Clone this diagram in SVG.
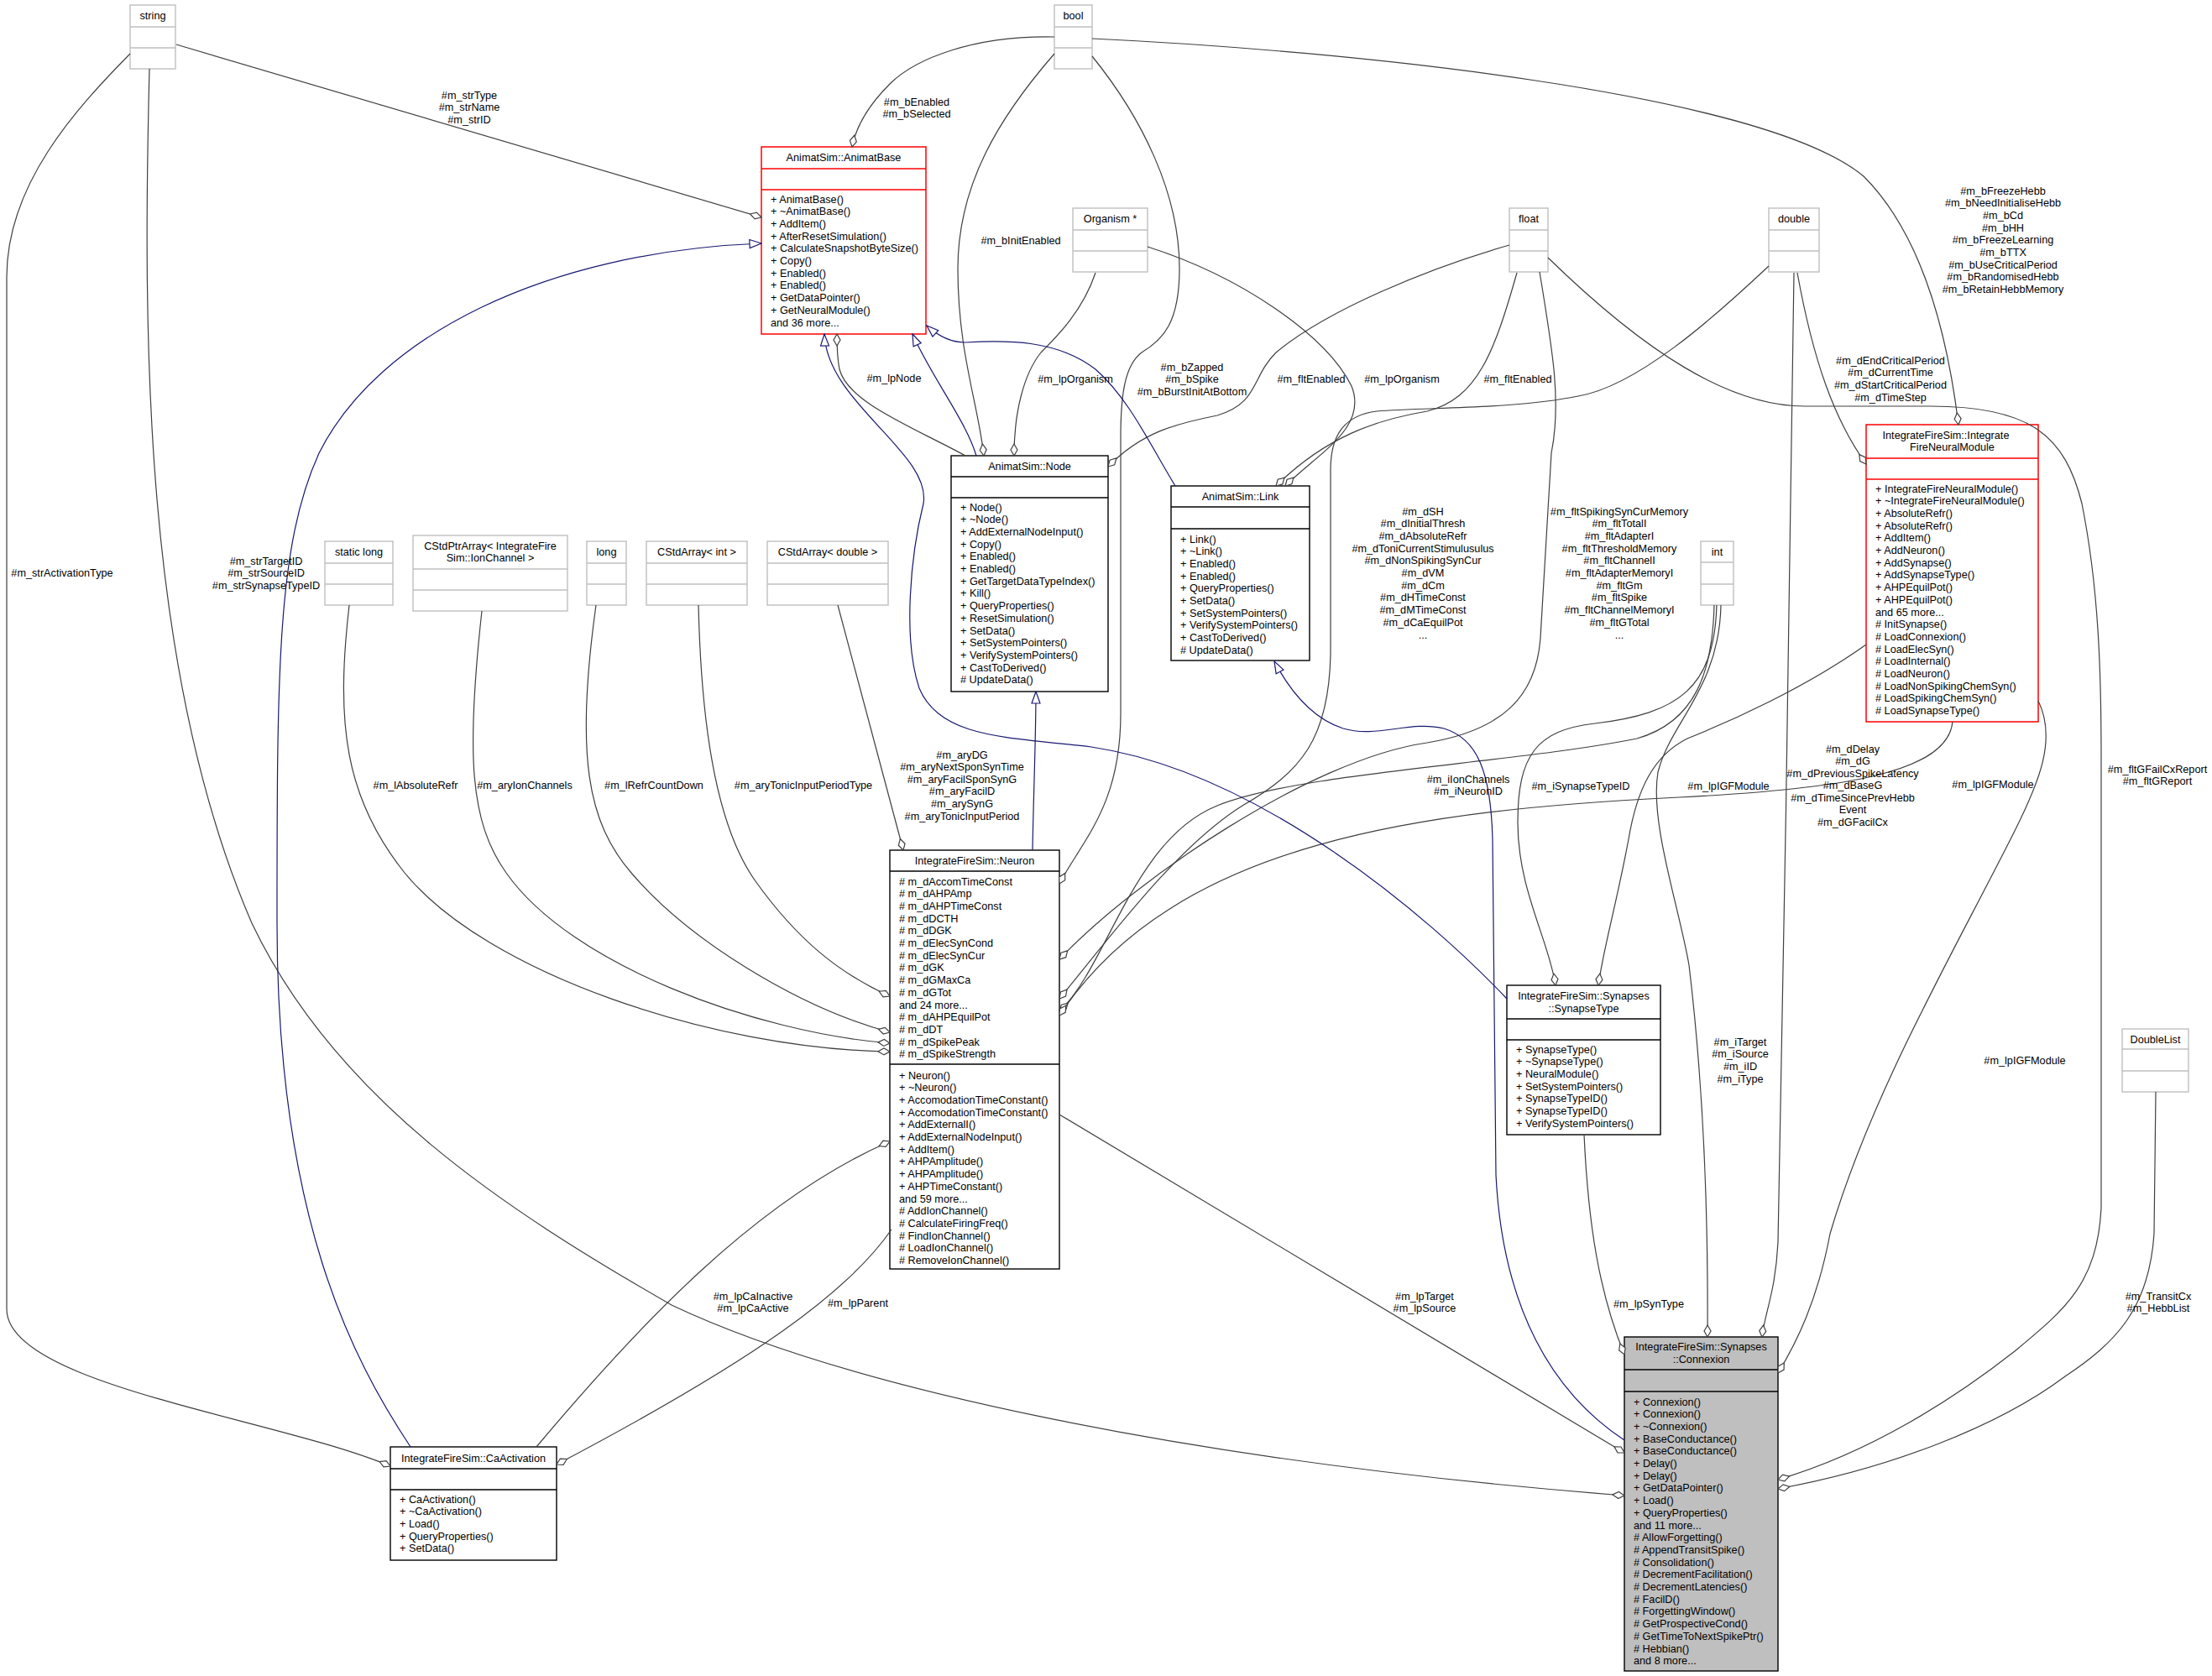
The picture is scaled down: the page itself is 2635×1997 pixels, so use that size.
<svg xmlns="http://www.w3.org/2000/svg" width="2635" height="1997" viewBox="0 0 2635 1997">
<style>
text{font-family:"Liberation Sans",Arial,sans-serif;font-size:12.7px;fill:#000}
.c{text-anchor:middle}
.box{fill:#fff;stroke:#000;stroke-width:1.4}
.red{fill:#fff;stroke:#ff0000;stroke-width:1.5}
.cur{fill:#bfbfbf;stroke:#000;stroke-width:1.4}
.typ{fill:#fff;stroke:#bfbfbf;stroke-width:1.4}
.dv{stroke:#000;stroke-width:1.4}
.dvr{stroke:#ff0000;stroke-width:1.5}
.dvt{stroke:#bfbfbf;stroke-width:1.4}
.e{fill:none;stroke:#404040;stroke-width:1.2;marker-end:url(#dia)}
.b{fill:none;stroke:#191970;stroke-width:1.2;marker-end:url(#arr)}
</style>
<defs>
<marker id="dia" markerUnits="userSpaceOnUse" markerWidth="16" markerHeight="10" viewBox="-1 -1 16 10" refX="14" refY="4" orient="auto"><path d="M0,4 L7,0 L14,4 L7,8 Z" fill="#fff" stroke="#404040" stroke-width="1.2"/></marker>
<marker id="arr" markerUnits="userSpaceOnUse" markerWidth="16" markerHeight="12" viewBox="-1 -1 16 12" refX="14" refY="5" orient="auto"><path d="M0,0 L14,5 L0,10 Z" fill="#fff" stroke="#191970" stroke-width="1.2"/></marker>
</defs>
<rect width="2635" height="1997" fill="#fff"/>

<g id="n_string"><rect class="typ" x="155" y="6" width="54" height="76"/><line class="dvt" x1="155" y1="32" x2="209" y2="32"/><line class="dvt" x1="155" y1="57" x2="209" y2="57"/><text class="c" x="182" y="22.5">string</text></g>
<g id="n_bool"><rect class="typ" x="1256" y="6" width="45" height="76"/><line class="dvt" x1="1256" y1="32" x2="1301" y2="32"/><line class="dvt" x1="1256" y1="57" x2="1301" y2="57"/><text class="c" x="1278.5" y="22.5">bool</text></g>
<g id="n_organism"><rect class="typ" x="1278" y="248" width="89" height="76"/><line class="dvt" x1="1278" y1="274" x2="1367" y2="274"/><line class="dvt" x1="1278" y1="299" x2="1367" y2="299"/><text class="c" x="1322.5" y="264.5">Organism *</text></g>
<g id="n_float"><rect class="typ" x="1798" y="248" width="46" height="76"/><line class="dvt" x1="1798" y1="274" x2="1844" y2="274"/><line class="dvt" x1="1798" y1="299" x2="1844" y2="299"/><text class="c" x="1821" y="264.5">float</text></g>
<g id="n_double"><rect class="typ" x="2107" y="248" width="60" height="76"/><line class="dvt" x1="2107" y1="274" x2="2167" y2="274"/><line class="dvt" x1="2107" y1="299" x2="2167" y2="299"/><text class="c" x="2137" y="264.5">double</text></g>
<g id="n_staticlong"><rect class="typ" x="387" y="645" width="81" height="76"/><line class="dvt" x1="387" y1="671" x2="468" y2="671"/><line class="dvt" x1="387" y1="696" x2="468" y2="696"/><text class="c" x="427.5" y="661.5">static long</text></g>
<g id="n_ptrarray"><rect class="typ" x="492" y="638" width="184" height="90"/><line class="dvt" x1="492" y1="678" x2="676" y2="678"/><line class="dvt" x1="492" y1="703" x2="676" y2="703"/><text class="c" x="584" y="654.5">CStdPtrArray&lt; IntegrateFire</text><text class="c" x="584" y="668.5">Sim::IonChannel &gt;</text></g>
<g id="n_long"><rect class="typ" x="699" y="645" width="47" height="76"/><line class="dvt" x1="699" y1="671" x2="746" y2="671"/><line class="dvt" x1="699" y1="696" x2="746" y2="696"/><text class="c" x="722.5" y="661.5">long</text></g>
<g id="n_arrint"><rect class="typ" x="770" y="645" width="120" height="76"/><line class="dvt" x1="770" y1="671" x2="890" y2="671"/><line class="dvt" x1="770" y1="696" x2="890" y2="696"/><text class="c" x="830" y="661.5">CStdArray&lt; int &gt;</text></g>
<g id="n_arrdouble"><rect class="typ" x="914" y="645" width="144" height="76"/><line class="dvt" x1="914" y1="671" x2="1058" y2="671"/><line class="dvt" x1="914" y1="696" x2="1058" y2="696"/><text class="c" x="986" y="661.5">CStdArray&lt; double &gt;</text></g>
<g id="n_int"><rect class="typ" x="2026" y="645" width="39" height="76"/><line class="dvt" x1="2026" y1="670" x2="2065" y2="670"/><line class="dvt" x1="2026" y1="696" x2="2065" y2="696"/><text class="c" x="2045.5" y="661.5">int</text></g>
<g id="n_doublelist"><rect class="typ" x="2528" y="1226" width="79" height="75"/><line class="dvt" x1="2528" y1="1250" x2="2607" y2="1250"/><line class="dvt" x1="2528" y1="1276" x2="2607" y2="1276"/><text class="c" x="2567.5" y="1242.5">DoubleList</text></g>

<g id="n_animatbase"><rect class="red" x="907" y="175" width="196" height="223"/><line class="dvr" x1="907" y1="201" x2="1103" y2="201"/><line class="dvr" x1="907" y1="226" x2="1103" y2="226"/><text class="c" x="1005" y="191.5">AnimatSim::AnimatBase</text>
<text x="918" y="241.5"><tspan x="918">+ AnimatBase()</tspan><tspan x="918" dy="14.7">+ ~AnimatBase()</tspan><tspan x="918" dy="14.7">+ AddItem()</tspan><tspan x="918" dy="14.7">+ AfterResetSimulation()</tspan><tspan x="918" dy="14.7">+ CalculateSnapshotByteSize()</tspan><tspan x="918" dy="14.7">+ Copy()</tspan><tspan x="918" dy="14.7">+ Enabled()</tspan><tspan x="918" dy="14.7">+ Enabled()</tspan><tspan x="918" dy="14.7">+ GetDataPointer()</tspan><tspan x="918" dy="14.7">+ GetNeuralModule()</tspan><tspan x="918" dy="14.7">and 36 more...</tspan></text></g>

<g id="n_node"><rect class="box" x="1133" y="543" width="187" height="281"/><line class="dv" x1="1133" y1="568" x2="1320" y2="568"/><line class="dv" x1="1133" y1="593" x2="1320" y2="593"/><text class="c" x="1226.5" y="559.5">AnimatSim::Node</text>
<text x="1144" y="608.5"><tspan x="1144">+ Node()</tspan><tspan x="1144" dy="14.7">+ ~Node()</tspan><tspan x="1144" dy="14.7">+ AddExternalNodeInput()</tspan><tspan x="1144" dy="14.7">+ Copy()</tspan><tspan x="1144" dy="14.7">+ Enabled()</tspan><tspan x="1144" dy="14.7">+ Enabled()</tspan><tspan x="1144" dy="14.7">+ GetTargetDataTypeIndex()</tspan><tspan x="1144" dy="14.7">+ Kill()</tspan><tspan x="1144" dy="14.7">+ QueryProperties()</tspan><tspan x="1144" dy="14.7">+ ResetSimulation()</tspan><tspan x="1144" dy="14.7">+ SetData()</tspan><tspan x="1144" dy="14.7">+ SetSystemPointers()</tspan><tspan x="1144" dy="14.7">+ VerifySystemPointers()</tspan><tspan x="1144" dy="14.7">+ CastToDerived()</tspan><tspan x="1144" dy="14.7"># UpdateData()</tspan></text></g>

<g id="n_link"><rect class="box" x="1395" y="579" width="165" height="208"/><line class="dv" x1="1395" y1="604" x2="1560" y2="604"/><line class="dv" x1="1395" y1="630" x2="1560" y2="630"/><text class="c" x="1477.5" y="595.5">AnimatSim::Link</text>
<text x="1406" y="646.5"><tspan x="1406">+ Link()</tspan><tspan x="1406" dy="14.7">+ ~Link()</tspan><tspan x="1406" dy="14.7">+ Enabled()</tspan><tspan x="1406" dy="14.7">+ Enabled()</tspan><tspan x="1406" dy="14.7">+ QueryProperties()</tspan><tspan x="1406" dy="14.7">+ SetData()</tspan><tspan x="1406" dy="14.7">+ SetSystemPointers()</tspan><tspan x="1406" dy="14.7">+ VerifySystemPointers()</tspan><tspan x="1406" dy="14.7">+ CastToDerived()</tspan><tspan x="1406" dy="14.7"># UpdateData()</tspan></text></g>

<g id="n_igfmodule"><rect class="red" x="2223" y="506" width="205" height="354"/><line class="dvr" x1="2223" y1="546" x2="2428" y2="546"/><line class="dvr" x1="2223" y1="571" x2="2428" y2="571"/><text class="c" x="2318" y="522.5">IntegrateFireSim::Integrate</text><text class="c" x="2325.5" y="536.5">FireNeuralModule</text>
<text x="2234" y="586.5"><tspan x="2234">+ IntegrateFireNeuralModule()</tspan><tspan x="2234" dy="14.7">+ ~IntegrateFireNeuralModule()</tspan><tspan x="2234" dy="14.7">+ AbsoluteRefr()</tspan><tspan x="2234" dy="14.7">+ AbsoluteRefr()</tspan><tspan x="2234" dy="14.7">+ AddItem()</tspan><tspan x="2234" dy="14.7">+ AddNeuron()</tspan><tspan x="2234" dy="14.7">+ AddSynapse()</tspan><tspan x="2234" dy="14.7">+ AddSynapseType()</tspan><tspan x="2234" dy="14.7">+ AHPEquilPot()</tspan><tspan x="2234" dy="14.7">+ AHPEquilPot()</tspan><tspan x="2234" dy="14.7">and 65 more...</tspan><tspan x="2234" dy="14.7"># InitSynapse()</tspan><tspan x="2234" dy="14.7"># LoadConnexion()</tspan><tspan x="2234" dy="14.7"># LoadElecSyn()</tspan><tspan x="2234" dy="14.7"># LoadInternal()</tspan><tspan x="2234" dy="14.7"># LoadNeuron()</tspan><tspan x="2234" dy="14.7"># LoadNonSpikingChemSyn()</tspan><tspan x="2234" dy="14.7"># LoadSpikingChemSyn()</tspan><tspan x="2234" dy="14.7"># LoadSynapseType()</tspan></text></g>

<g id="n_neuron"><rect class="box" x="1060" y="1013" width="202" height="499"/><line class="dv" x1="1060" y1="1038" x2="1262" y2="1038"/><line class="dv" x1="1060" y1="1268" x2="1262" y2="1268"/><text class="c" x="1161" y="1029.5">IntegrateFireSim::Neuron</text>
<text x="1071" y="1054.5"><tspan x="1071"># m_dAccomTimeConst</tspan><tspan x="1071" dy="14.7"># m_dAHPAmp</tspan><tspan x="1071" dy="14.7"># m_dAHPTimeConst</tspan><tspan x="1071" dy="14.7"># m_dDCTH</tspan><tspan x="1071" dy="14.7"># m_dDGK</tspan><tspan x="1071" dy="14.7"># m_dElecSynCond</tspan><tspan x="1071" dy="14.7"># m_dElecSynCur</tspan><tspan x="1071" dy="14.7"># m_dGK</tspan><tspan x="1071" dy="14.7"># m_dGMaxCa</tspan><tspan x="1071" dy="14.7"># m_dGTot</tspan><tspan x="1071" dy="14.7">and 24 more...</tspan><tspan x="1071" dy="14.7"># m_dAHPEquilPot</tspan><tspan x="1071" dy="14.7"># m_dDT</tspan><tspan x="1071" dy="14.7"># m_dSpikePeak</tspan><tspan x="1071" dy="14.7"># m_dSpikeStrength</tspan></text>
<text x="1071" y="1285.5"><tspan x="1071">+ Neuron()</tspan><tspan x="1071" dy="14.7">+ ~Neuron()</tspan><tspan x="1071" dy="14.7">+ AccomodationTimeConstant()</tspan><tspan x="1071" dy="14.7">+ AccomodationTimeConstant()</tspan><tspan x="1071" dy="14.7">+ AddExternalI()</tspan><tspan x="1071" dy="14.7">+ AddExternalNodeInput()</tspan><tspan x="1071" dy="14.7">+ AddItem()</tspan><tspan x="1071" dy="14.7">+ AHPAmplitude()</tspan><tspan x="1071" dy="14.7">+ AHPAmplitude()</tspan><tspan x="1071" dy="14.7">+ AHPTimeConstant()</tspan><tspan x="1071" dy="14.7">and 59 more...</tspan><tspan x="1071" dy="14.7"># AddIonChannel()</tspan><tspan x="1071" dy="14.7"># CalculateFiringFreq()</tspan><tspan x="1071" dy="14.7"># FindIonChannel()</tspan><tspan x="1071" dy="14.7"># LoadIonChannel()</tspan><tspan x="1071" dy="14.7"># RemoveIonChannel()</tspan></text></g>

<g id="n_synapsetype"><rect class="box" x="1795" y="1174" width="183" height="178"/><line class="dv" x1="1795" y1="1214" x2="1978" y2="1214"/><line class="dv" x1="1795" y1="1239" x2="1978" y2="1239"/><text class="c" x="1886.5" y="1190.5">IntegrateFireSim::Synapses</text><text class="c" x="1886.5" y="1205.5">::SynapseType</text>
<text x="1806" y="1254.5"><tspan x="1806">+ SynapseType()</tspan><tspan x="1806" dy="14.7">+ ~SynapseType()</tspan><tspan x="1806" dy="14.7">+ NeuralModule()</tspan><tspan x="1806" dy="14.7">+ SetSystemPointers()</tspan><tspan x="1806" dy="14.7">+ SynapseTypeID()</tspan><tspan x="1806" dy="14.7">+ SynapseTypeID()</tspan><tspan x="1806" dy="14.7">+ VerifySystemPointers()</tspan></text></g>

<g id="n_connexion"><rect class="cur" x="1935" y="1593" width="183" height="398"/><line class="dv" x1="1935" y1="1632" x2="2118" y2="1632"/><line class="dv" x1="1935" y1="1658" x2="2118" y2="1658"/><text class="c" x="2026.5" y="1608.5">IntegrateFireSim::Synapses</text><text class="c" x="2026.5" y="1623.5">::Connexion</text>
<text x="1946" y="1674.5"><tspan x="1946">+ Connexion()</tspan><tspan x="1946" dy="14.7">+ Connexion()</tspan><tspan x="1946" dy="14.7">+ ~Connexion()</tspan><tspan x="1946" dy="14.7">+ BaseConductance()</tspan><tspan x="1946" dy="14.7">+ BaseConductance()</tspan><tspan x="1946" dy="14.7">+ Delay()</tspan><tspan x="1946" dy="14.7">+ Delay()</tspan><tspan x="1946" dy="14.7">+ GetDataPointer()</tspan><tspan x="1946" dy="14.7">+ Load()</tspan><tspan x="1946" dy="14.7">+ QueryProperties()</tspan><tspan x="1946" dy="14.7">and 11 more...</tspan><tspan x="1946" dy="14.7"># AllowForgetting()</tspan><tspan x="1946" dy="14.7"># AppendTransitSpike()</tspan><tspan x="1946" dy="14.7"># Consolidation()</tspan><tspan x="1946" dy="14.7"># DecrementFacilitation()</tspan><tspan x="1946" dy="14.7"># DecrementLatencies()</tspan><tspan x="1946" dy="14.7"># FacilD()</tspan><tspan x="1946" dy="14.7"># ForgettingWindow()</tspan><tspan x="1946" dy="14.7"># GetProspectiveCond()</tspan><tspan x="1946" dy="14.7"># GetTimeToNextSpikePtr()</tspan><tspan x="1946" dy="14.7"># Hebbian()</tspan><tspan x="1946" dy="14.7">and 8 more...</tspan></text></g>

<g id="n_caactivation"><rect class="box" x="465" y="1724" width="198" height="135"/><line class="dv" x1="465" y1="1750" x2="663" y2="1750"/><line class="dv" x1="465" y1="1775" x2="663" y2="1775"/><text class="c" x="564" y="1741.5">IntegrateFireSim::CaActivation</text>
<text x="476" y="1790.5"><tspan x="476">+ CaActivation()</tspan><tspan x="476" dy="14.7">+ ~CaActivation()</tspan><tspan x="476" dy="14.7">+ Load()</tspan><tspan x="476" dy="14.7">+ QueryProperties()</tspan><tspan x="476" dy="14.7">+ SetData()</tspan></text></g>

<g id="connectors">
<path class="e" d="M210,53 L907,259"/>
<path class="e" d="M178,82 C170,400 170,800 300,1100 C400,1310 600,1440 800,1555 C1000,1650 1400,1740 1935,1782"/>
<path class="e" d="M155,64 C90,130 8,220 8,330 L8,1560 C8,1650 330,1690 465,1747"/>
<path class="e" d="M1256,44 C1160,42 1090,70 1060,100 C1035,125 1020,150 1015,175"/>
<path class="e" d="M1256,64 C1190,140 1141,220 1141,320 C1141,420 1165,480 1172,543"/>
<path class="e" d="M1301,67 C1360,140 1405,230 1405,320 C1405,385 1385,405 1360,420 C1340,435 1335,470 1335,520 L1335,850 C1335,960 1290,1000 1262,1053"/>
<path class="e" d="M1301,46 C1600,60 2100,110 2220,210 C2290,280 2320,400 2333,506"/>
<path class="e" d="M1305,325 C1290,370 1260,400 1240,420 C1220,445 1208,490 1208,543"/>
<path class="e" d="M1367,294 C1480,330 1580,400 1610,460 C1630,510 1570,540 1531,579"/>
<path class="e" d="M1798,292 C1700,320 1580,370 1520,420 C1490,450 1500,480 1450,495 C1400,505 1360,515 1320,556"/>
<path class="e" d="M1807,325 C1780,420 1760,475 1700,490 C1640,500 1580,520 1520,579"/>
<path class="e" d="M1834,324 C1850,420 1860,480 1848,540 L1835,760 C1830,830 1790,870 1700,885 C1560,905 1350,1050 1262,1143"/>
<path class="e" d="M1844,307 C1960,420 2060,484 2150,484 L2300,484 C2420,484 2460,520 2480,600 C2500,700 2503,800 2503,900 L2503,1440 C2498,1530 2460,1560 2400,1610 C2330,1665 2230,1730 2118,1763"/>
<path class="e" d="M2107,317 C2040,380 1950,460 1880,472 C1800,488 1700,485 1640,490 C1600,495 1585,520 1585,560 L1585,780 C1583,880 1550,920 1480,960 C1400,1010 1320,1120 1262,1190"/>
<path class="e" d="M2141,325 C2160,430 2185,500 2223,553"/>
<path class="e" d="M2137,325 C2133,700 2125,1100 2118,1480 C2115,1540 2102,1565 2099,1593"/>
<path class="e" d="M2042,721 C2040,800 2020,860 1950,880 C1800,910 1550,920 1450,960 C1350,1000 1320,1150 1262,1205"/>
<path class="e" d="M2045,721 C2042,820 2000,850 1900,862 C1830,870 1808,900 1808,980 C1808,1060 1845,1120 1853,1174"/>
<path class="e" d="M2050,721 C2048,820 1990,860 1975,920 C1965,980 2000,1080 2012,1150 C2030,1300 2035,1450 2034,1593"/>
<path class="e" d="M2223,768 C2150,820 2060,860 2010,880 C1970,900 1950,940 1940,1000 C1925,1080 1910,1130 1904,1174"/>
<path class="e" d="M2326,860 C2320,920 2200,940 2000,950 C1700,965 1400,1000 1262,1210"/>
<path class="e" d="M2428,835 C2450,880 2430,930 2400,990 C2330,1130 2230,1300 2180,1470 C2165,1550 2140,1600 2118,1636"/>
<path class="e" d="M2568,1301 L2566,1470 C2560,1560 2520,1600 2460,1640 C2380,1700 2250,1750 2118,1774"/>
<path class="e" d="M1887,1352 C1892,1460 1905,1540 1935,1614"/>
<path class="e" d="M1262,1328 L1935,1731"/>
<path class="e" d="M639,1724 C760,1580 900,1430 1060,1360"/>
<path class="e" d="M1062,1465 C1010,1540 900,1620 663,1745"/>
<path class="e" d="M416,721 C400,860 410,950 482,1040 C580,1160 850,1250 1060,1253"/>
<path class="e" d="M574,728 C555,900 560,980 603,1040 C680,1150 900,1230 1060,1243"/>
<path class="e" d="M710,721 C685,900 700,980 752,1040 C820,1120 950,1200 1060,1230"/>
<path class="e" d="M832,721 C835,850 850,980 900,1050 C950,1120 1000,1160 1060,1187"/>
<path class="e" d="M998,721 L1076,1013"/>
<path class="e" d="M1150,543 C1090,510 1010,480 1000,440 C997,425 997,410 997,398"/>
<path class="b" d="M1230,1013 C1231,950 1234,880 1234,824"/>
<path class="b" d="M1163,543 C1150,500 1110,450 1087,398"/>
<path class="b" d="M1400,579 C1370,530 1345,475 1305,440 C1260,405 1200,405 1150,408 C1130,408 1115,398 1104,388"/>
<path class="b" d="M1795,1190 C1700,1090 1500,920 1300,890 C1200,878 1120,880 1095,820 C1075,760 1085,660 1100,600 C1110,540 985,480 982,398"/>
<path class="b" d="M1935,1716 C1850,1660 1790,1560 1782,1400 L1778,1000 C1776,920 1760,880 1720,868 C1680,858 1640,880 1600,868 C1560,855 1535,820 1518,788"/>
<path class="b" d="M489,1724 C420,1620 330,1450 330,1100 C330,800 330,650 380,540 C450,400 650,300 907,290"/>
</g>

<g id="labels">
<text class="c" x="559" y="117.5"><tspan x="559">#m_strType</tspan><tspan x="559" dy="14.7">#m_strName</tspan><tspan x="559" dy="14.7">#m_strID</tspan></text>
<text class="c" x="1092" y="125.5"><tspan x="1092">#m_bEnabled</tspan><tspan x="1092" dy="14.2">#m_bSelected</tspan></text>
<text class="c" x="1216" y="290.5">#m_bInitEnabled</text>
<text class="c" x="1281" y="455.5">#m_lpOrganism</text>
<text class="c" x="1420" y="441.5"><tspan x="1420">#m_bZapped</tspan><tspan x="1420" dy="14.5">#m_bSpike</tspan><tspan x="1420" dy="14.5">#m_bBurstInitAtBottom</tspan></text>
<text class="c" x="1562" y="455.5">#m_fltEnabled</text>
<text class="c" x="1670" y="455.5">#m_lpOrganism</text>
<text class="c" x="1808" y="455.5">#m_fltEnabled</text>
<text class="c" x="1065" y="454.5">#m_lpNode</text>
<text class="c" x="2252" y="433.5"><tspan x="2252">#m_dEndCriticalPeriod</tspan><tspan x="2252" dy="14.7">#m_dCurrentTime</tspan><tspan x="2252" dy="14.7">#m_dStartCriticalPeriod</tspan><tspan x="2252" dy="14.7">#m_dTimeStep</tspan></text>
<text class="c" x="2386" y="231.5"><tspan x="2386">#m_bFreezeHebb</tspan><tspan x="2386" dy="14.7">#m_bNeedInitialiseHebb</tspan><tspan x="2386" dy="14.7">#m_bCd</tspan><tspan x="2386" dy="14.7">#m_bHH</tspan><tspan x="2386" dy="14.7">#m_bFreezeLearning</tspan><tspan x="2386" dy="14.7">#m_bTTX</tspan><tspan x="2386" dy="14.7">#m_bUseCriticalPeriod</tspan><tspan x="2386" dy="14.7">#m_bRandomisedHebb</tspan><tspan x="2386" dy="14.7">#m_bRetainHebbMemory</tspan></text>
<text class="c" x="317" y="672.5"><tspan x="317">#m_strTargetID</tspan><tspan x="317" dy="14.5">#m_strSourceID</tspan><tspan x="317" dy="14.5">#m_strSynapseTypeID</tspan></text>
<text class="c" x="74" y="686.5">#m_strActivationType</text>
<text class="c" x="495" y="939.5">#m_lAbsoluteRefr</text>
<text class="c" x="625" y="939.5">#m_aryIonChannels</text>
<text class="c" x="779" y="939.5">#m_lRefrCountDown</text>
<text class="c" x="957" y="939.5">#m_aryTonicInputPeriodType</text>
<text class="c" x="1146" y="903.5"><tspan x="1146">#m_aryDG</tspan><tspan x="1146" dy="14.6">#m_aryNextSponSynTime</tspan><tspan x="1146" dy="14.6">#m_aryFacilSponSynG</tspan><tspan x="1146" dy="14.6">#m_aryFacilD</tspan><tspan x="1146" dy="14.6">#m_arySynG</tspan><tspan x="1146" dy="14.6">#m_aryTonicInputPeriod</tspan></text>
<text class="c" x="1695" y="613.5"><tspan x="1695">#m_dSH</tspan><tspan x="1695" dy="14.7">#m_dInitialThresh</tspan><tspan x="1695" dy="14.7">#m_dAbsoluteRefr</tspan><tspan x="1695" dy="14.7">#m_dToniCurrentStimulusulus</tspan><tspan x="1695" dy="14.7">#m_dNonSpikingSynCur</tspan><tspan x="1695" dy="14.7">#m_dVM</tspan><tspan x="1695" dy="14.7">#m_dCm</tspan><tspan x="1695" dy="14.7">#m_dHTimeConst</tspan><tspan x="1695" dy="14.7">#m_dMTimeConst</tspan><tspan x="1695" dy="14.7">#m_dCaEquilPot</tspan><tspan x="1695" dy="14.7">...</tspan></text>
<text class="c" x="1929" y="613.5"><tspan x="1929">#m_fltSpikingSynCurMemory</tspan><tspan x="1929" dy="14.7">#m_fltTotalI</tspan><tspan x="1929" dy="14.7">#m_fltAdapterI</tspan><tspan x="1929" dy="14.7">#m_fltThresholdMemory</tspan><tspan x="1929" dy="14.7">#m_fltChannelI</tspan><tspan x="1929" dy="14.7">#m_fltAdapterMemoryI</tspan><tspan x="1929" dy="14.7">#m_fltGm</tspan><tspan x="1929" dy="14.7">#m_fltSpike</tspan><tspan x="1929" dy="14.7">#m_fltChannelMemoryI</tspan><tspan x="1929" dy="14.7">#m_fltGTotal</tspan><tspan x="1929" dy="14.7">...</tspan></text>
<text class="c" x="1749" y="932.5"><tspan x="1749">#m_iIonChannels</tspan><tspan x="1749" dy="14.5">#m_iNeuronID</tspan></text>
<text class="c" x="1883" y="940.5">#m_iSynapseTypeID</text>
<text class="c" x="2059" y="940.5">#m_lpIGFModule</text>
<text class="c" x="2207" y="896.5"><tspan x="2207">#m_dDelay</tspan><tspan x="2207" dy="14.5">#m_dG</tspan><tspan x="2207" dy="14.5">#m_dPreviousSpikeLatency</tspan><tspan x="2207" dy="14.5">#m_dBaseG</tspan><tspan x="2207" dy="14.5">#m_dTimeSincePrevHebb</tspan><tspan x="2207" dy="14.5">Event</tspan><tspan x="2207" dy="14.5">#m_dGFacilCx</tspan></text>
<text class="c" x="2374" y="938.5">#m_lpIGFModule</text>
<text class="c" x="2073" y="1245.5"><tspan x="2073">#m_iTarget</tspan><tspan x="2073" dy="14.7">#m_iSource</tspan><tspan x="2073" dy="14.7">#m_iID</tspan><tspan x="2073" dy="14.7">#m_iType</tspan></text>
<text class="c" x="2412" y="1267.5">#m_lpIGFModule</text>
<text class="c" x="2570" y="920.5"><tspan x="2570">#m_fltGFailCxReport</tspan><tspan x="2570" dy="14.5">#m_fltGReport</tspan></text>
<text class="c" x="2571" y="1548.5"><tspan x="2571">#m_TransitCx</tspan><tspan x="2571" dy="14.5">#m_HebbList</tspan></text>
<text class="c" x="1964" y="1557.5">#m_lpSynType</text>
<text class="c" x="1697" y="1548.5"><tspan x="1697">#m_lpTarget</tspan><tspan x="1697" dy="14.5">#m_lpSource</tspan></text>
<text class="c" x="897" y="1548.5"><tspan x="897">#m_lpCaInactive</tspan><tspan x="897" dy="14.5">#m_lpCaActive</tspan></text>
<text class="c" x="1022" y="1556.5">#m_lpParent</text>
</g>
</svg>
